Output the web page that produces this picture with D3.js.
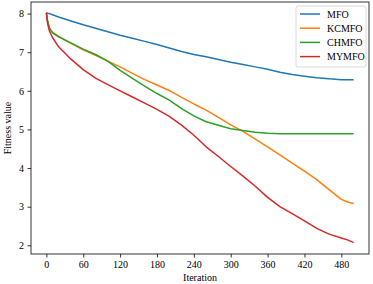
<!DOCTYPE html>
<html>
<head>
<meta charset="utf-8">
<script src="https://cdn.jsdelivr.net/npm/d3@7"></script>
<style>
html,body{margin:0;padding:0;background:#fff;}
svg text{font-family:"Liberation Serif","Times New Roman",serif;}
</style>
</head>
<body>
<svg id="chart" width="373" height="284"></svg>
<script>
const iterations = [0,2,5,10,20,30,40,60,80,100,120,140,160,180,200,220,240,260,280,300,320,340,360,380,400,420,440,460,480,490,500];
const seriesNames = ["MFO","KCMFO","CHMFO","MYMFO"];
const colors = ["#1f77b4","#ff7f0e","#2ca02c","#d62728"];
const mfo   = [8.02,8.01,8.00,7.97,7.91,7.86,7.81,7.71,7.62,7.53,7.44,7.36,7.28,7.20,7.11,7.02,6.94,6.88,6.81,6.74,6.68,6.62,6.56,6.48,6.42,6.38,6.34,6.31,6.29,6.29,6.29];
const kcmfo = [8.02,7.80,7.62,7.52,7.41,7.32,7.23,7.06,6.92,6.77,6.62,6.45,6.29,6.15,6.01,5.83,5.66,5.50,5.31,5.12,4.95,4.75,4.55,4.34,4.13,3.92,3.70,3.44,3.19,3.12,3.08];
const chmfo = [8.02,7.80,7.62,7.50,7.40,7.32,7.24,7.08,6.94,6.77,6.53,6.32,6.12,5.93,5.76,5.54,5.35,5.20,5.11,5.02,4.97,4.93,4.90,4.89,4.89,4.89,4.89,4.89,4.89,4.89,4.89];
const mymfo = [8.02,7.75,7.55,7.38,7.14,6.98,6.82,6.55,6.33,6.16,6.00,5.84,5.68,5.52,5.34,5.11,4.85,4.55,4.30,4.04,3.79,3.53,3.24,3.00,2.82,2.63,2.44,2.29,2.19,2.14,2.07];
const allSeries = [mfo,kcmfo,chmfo,mymfo];
const xTicks = [0,60,120,180,240,300,360,420,480];
const yTicks = [2,3,4,5,6,7,8];

const svg = d3.select("#chart");
const L = 31, R = 369, T = 2, B = 254;
const x = d3.scaleLinear().domain([-25,525]).range([L,R]);
const y = d3.scaleLinear().domain([1.775,8.30]).range([B,T]);

const line = d3.line().x((d,i)=>x(iterations[i])).y(d=>y(d));
allSeries.forEach((s,k)=>{
  svg.append("path").datum(s).attr("d",line)
    .attr("fill","none").attr("stroke",colors[k]).attr("stroke-width",1.5)
    .attr("stroke-linejoin","round");
});

// frame
svg.append("rect").attr("x",L).attr("y",T).attr("width",R-L).attr("height",B-T)
  .attr("fill","none").attr("stroke","#000").attr("stroke-width",0.8);

const xAxis = svg.append("g").attr("transform",`translate(0,${B})`)
  .call(d3.axisBottom(x).tickValues(xTicks).tickSize(3.5).tickPadding(3.5).tickFormat(d3.format("d")));
const yAxis = svg.append("g").attr("transform",`translate(${L},0)`)
  .call(d3.axisLeft(y).tickValues(yTicks).tickSize(3.5).tickPadding(3.5).tickFormat(d3.format("d")));
[xAxis,yAxis].forEach(a=>{
  a.select(".domain").remove();
  a.selectAll("text").attr("font-size",10).attr("fill","#000").style("font-family","Liberation Serif");
  a.selectAll("line").attr("stroke","#000").attr("stroke-width",0.8);
});

svg.append("text").attr("x",(L+R)/2).attr("y",281).attr("text-anchor","middle")
  .attr("font-size",10).text("Iteration");
svg.append("text").attr("transform",`translate(11,${(T+B)/2}) rotate(-90)`)
  .attr("text-anchor","middle").attr("font-size",10).text("Fitness value");

// legend
const lg = svg.append("g");
lg.append("rect").attr("x",296).attr("y",6).attr("width",70).attr("height",61).attr("rx",2)
  .attr("fill","#fff").attr("fill-opacity",0.8).attr("stroke","#d0d0d0").attr("stroke-width",0.8);
seriesNames.forEach((n,k)=>{
  const yy = 14 + k*14.2;
  lg.append("line").attr("x1",300).attr("x2",320).attr("y1",yy).attr("y2",yy)
    .attr("stroke",colors[k]).attr("stroke-width",1.5);
  lg.append("text").attr("x",327).attr("y",yy+3.5).attr("font-size",10).text(n);
});
</script>
</body>
</html>
